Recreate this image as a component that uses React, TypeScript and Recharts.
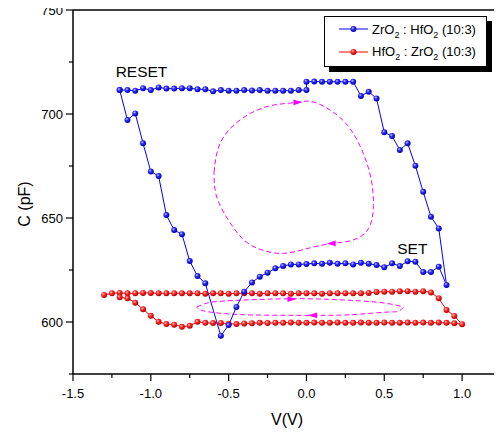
import {
  ComposedChart,
  Line,
  XAxis,
  YAxis,
  Legend,
  ReferenceDot,
} from "recharts";

const FONT = '"Liberation Sans", Arial, Helvetica, sans-serif';

const seriesNames = ["ZrO2 : HfO2 (10:3)", "HfO2 : ZrO2 (10:3)"];
const seriesColors = ["#0000ff", "#ff0000"];
const ballFills = ["url(#ballBlue)", "url(#ballRed)"];

// ZrO2 : HfO2 sweep, points in the order they were measured
const zrV = [
  // top branch
  -1.2, -1.15, -1.1, -1.05, -1, -0.95, -0.9, -0.85, -0.8, -0.75,
  -0.7, -0.65, -0.6, -0.55, -0.5, -0.45, -0.4, -0.35, -0.3, -0.25,
  -0.2, -0.15, -0.1, -0.05, 0,
  0, 0.05, 0.1, 0.15, 0.2, 0.25, 0.3,
  // right side going down
  0.35, 0.4, 0.45, 0.5, 0.55, 0.6, 0.65, 0.7, 0.75, 0.8, 0.85, 0.9,
  // bottom branch back to the left
  0.85, 0.8, 0.75, 0.7, 0.65, 0.6, 0.55, 0.5, 0.45, 0.4,
  0.35, 0.3, 0.25, 0.2, 0.15, 0.1, 0.05, 0, -0.05, -0.1,
  -0.15, -0.2, -0.25, -0.3, -0.35, -0.4, -0.45, -0.5, -0.55,
  // left side going up
  -0.65, -0.7, -0.75, -0.8, -0.85, -0.9, -0.95, -1, -1.05, -1.1, -1.15, -1.2,
];
const zrC = [
  711.5, 711.5, 711.2, 712.4, 711.5, 712.8, 712.2, 712.2, 712.4, 712.4,
  711.9, 711.9, 710.9, 711.5, 711.2, 711.2, 711.5, 711.3, 711.5, 711.2,
  711.2, 711.2, 711.2, 711.5, 711.5,
  715.5, 715.6, 715.5, 715.5, 715.5, 715.5, 715.5,
  708.7, 710.7, 707.5, 691.2, 689.4, 682.7, 685.9, 675.1, 662.6, 650.6, 645.0, 617.8,
  626.6, 624.0, 624.0, 629.0, 629.2, 626.9, 628.2, 626.3, 627.4, 628.0,
  628.5, 627.7, 628.2, 628.0, 628.5, 628.0, 628.2, 627.9, 627.7, 627.7,
  626.9, 625.8, 623.7, 621.8, 619.0, 614.6, 607.2, 598.5, 593.4,
  618.6, 622.1, 629.3, 642.2, 644.2, 651.4, 670.2, 672.3, 685.9, 700.3, 697.1, 711.5,
];

// HfO2 : ZrO2 sweep
const hfV = [
  -1.3, -1.25, -1.2, -1.15, -1.1, -1.05, -1, -0.95, -0.9, -0.85,
  -0.8, -0.75, -0.7, -0.65, -0.6, -0.55, -0.5, -0.45, -0.4, -0.35,
  -0.3, -0.25, -0.2, -0.15, -0.1, -0.05, 0, 0.05, 0.1, 0.15,
  0.2, 0.25, 0.3, 0.35, 0.4, 0.45, 0.5, 0.55, 0.6, 0.65,
  0.7, 0.75, 0.8,
  0.85, 0.9, 0.95, 1,
  0.95, 0.9, 0.85, 0.8, 0.75, 0.7, 0.65, 0.6, 0.55, 0.5,
  0.45, 0.4, 0.35, 0.3, 0.25, 0.2, 0.15, 0.1, 0.05, 0,
  -0.05, -0.1, -0.15, -0.2, -0.25, -0.3, -0.35, -0.4, -0.45, -0.5,
  -0.55, -0.6, -0.65, -0.7, -0.75, -0.8, -0.85, -0.9, -0.95, -1,
  -1.05, -1.1, -1.15, -1.2,
];
const hfC = [
  613.0, 613.8, 614.0, 613.8, 613.8, 614.0, 614.0, 613.8, 613.8, 613.8,
  613.8, 613.8, 613.8, 613.6, 613.8, 613.8, 613.6, 613.8, 613.8, 613.8,
  613.6, 613.8, 613.8, 613.8, 613.6, 613.8, 613.8, 613.8, 613.6, 613.8,
  613.8, 613.8, 613.8, 613.8, 614.0, 614.4, 614.6, 614.6, 614.8, 614.8,
  614.6, 614.8, 614.2,
  611.4, 605.8, 602.9, 598.9,
  599.4, 599.6, 599.7, 599.6, 599.7, 599.6, 599.7, 599.6, 599.6, 599.7,
  599.6, 599.6, 599.7, 599.6, 599.6, 599.7, 599.6, 599.6, 599.7, 599.6,
  599.6, 599.7, 599.6, 599.6, 599.5, 599.6, 599.4, 599.3, 599.0, 599.2,
  599.5, 599.5, 599.6, 600.1, 598.2, 597.7, 598.7, 599.0, 600.1, 603.0,
  606.1, 609.3, 611.4, 611.9,
];

// magenta guide loops (hand drawn on the original)
const bigLoopV = [
  -0.594, -0.567, -0.49, -0.36, -0.21, -0.06, 0.04, 0.17, 0.28, 0.36, 0.415,
  0.43, 0.4, 0.3, 0.17, 0.02, -0.15, -0.3, -0.41, -0.51, -0.58, -0.594,
];
const bigLoopC = [
  672, 683.5, 693, 700.3, 704.3, 705.6, 705.9, 701, 693, 682, 669,
  656, 645, 639.4, 637.8, 635.6, 633, 635, 640, 650, 661, 672,
];
const smallLoopV = [
  -0.705, -0.652, -0.567, -0.353, -0.032, 0.288, 0.502, 0.609, 0.619,
  0.587, 0.502, 0.288, 0.032, -0.353, -0.567, -0.673, -0.705,
];
const smallLoopC = [
  607.2, 608.8, 609.9, 610.7, 611.2, 610.4, 609.1, 607.5, 606.7,
  605.1, 604.7, 603.5, 603.2, 603.4, 604.3, 605.6, 607.2,
];

const arrowV = [-0.026, 0.13, -0.064, 0.01];
const arrowC = [705.6, 637.8, 611.0, 603.2];
const arrowDir = [1, -1, 1, -1];

const noteText = ["RESET", "SET"];
const noteV = [-1.06, 0.68];
const noteC = [717.8, 632.7];

const xTicks = [-1.5, -1.25, -1, -0.75, -0.5, -0.25, 0, 0.25, 0.5, 0.75, 1, 1.25];
const xMajor = [-1.5, -1, -0.5, 0, 0.5, 1];
const yTicks = [575, 600, 625, 650, 675, 700, 725, 750];
const yMajor = [600, 650, 700, 750];

const toRows = (v: number[], c: number[]) => v.map((x, i) => ({ v: x, c: c[i] }));

const BottomTick = (p: any) => {
  const v = p.payload.value;
  const major = xMajor.includes(v);
  return (
    <g>
      <line x1={p.x} x2={p.x} y1={p.y} y2={p.y + (major ? 7 : 4)} stroke="#000" strokeWidth={1.2} />
      {major && (
        <text x={p.x} y={p.y + 24} textAnchor="middle" fontSize={13} fontFamily={FONT} fill="#000">
          {v.toFixed(1)}
        </text>
      )}
    </g>
  );
};

const TopTick = (p: any) => {
  const major = xMajor.includes(p.payload.value);
  return <line x1={p.x} x2={p.x} y1={p.y} y2={p.y + (major ? 5 : 3)} stroke="#000" strokeWidth={1.2} />;
};

const LeftTick = (p: any) => {
  const v = p.payload.value;
  const major = yMajor.includes(v);
  return (
    <g>
      <line x1={p.x - (major ? 7 : 4)} x2={p.x} y1={p.y} y2={p.y} stroke="#000" strokeWidth={1.2} />
      {major && (
        <text x={p.x - 10} y={p.y + 4.7} textAnchor="end" fontSize={13} fontFamily={FONT} fill="#000">
          {v}
        </text>
      )}
    </g>
  );
};

const RightTick = (p: any) => {
  const major = yMajor.includes(p.payload.value);
  return <line x1={p.x - (major ? 5 : 3)} x2={p.x} y1={p.y} y2={p.y} stroke="#000" strokeWidth={1.2} />;
};

const YLabel = (p: any) => {
  const vb = p.viewBox || { x: 0, y: 10, width: 73, height: 364 };
  const cx = vb.x + 24;
  const cy = vb.y + vb.height / 2 + 12;
  return (
    <text x={cx} y={cy} dy={6} transform={`rotate(-90 ${cx} ${cy})`} textAnchor="middle" fontSize={16} fontFamily={FONT} fill="#000">
      C (pF)
    </text>
  );
};

const chem = (s: string) =>
  s.split("2").map((part, i) => (
    <span key={i}>
      {i > 0 && <span style={{ fontSize: 9, position: "relative", top: 4 }}>2</span>}
      {part}
    </span>
  ));

const renderLegend = () => (
  <div
    style={{
      position: "relative",
      width: 163,
      height: 51,
      boxSizing: "border-box",
      border: "1px solid #000",
      background: "#fff",
      boxShadow: "5px 5px 0 #000",
      fontFamily: FONT,
      fontSize: 13,
      color: "#000",
    }}
  >
    {seriesNames.map((name, i) => (
      <div
        key={name}
        style={{
          position: "absolute",
          left: 13,
          top: i === 0 ? 1 : 23.7,
          height: 22,
          display: "flex",
          alignItems: "center",
          whiteSpace: "pre",
        }}
      >
        <svg width={31} height={10}>
          <line x1={1} x2={30} y1={5} y2={5} stroke={seriesColors[i]} strokeWidth={1} />
          <circle cx={15.5} cy={5} r={3} fill={ballFills[i]} />
        </svg>
        <span style={{ marginLeft: 3 }}>{chem(name)}</span>
      </div>
    ))}
  </div>
);

export default function App() {
  const axisLine = { stroke: "#000", strokeWidth: 1.5 };
  return (
    <div style={{ margin: "-8px 0 0 -8px", width: 502, height: 435 }}>
      <ComposedChart width={502} height={435} margin={{ top: 9, right: 0, bottom: 0, left: 0 }}>
        <defs>
          <radialGradient id="ballBlue" cx="38%" cy="35%" r="65%">
            <stop offset="0%" stopColor="#c8c8ff" />
            <stop offset="40%" stopColor="#2a2aff" />
            <stop offset="100%" stopColor="#0000a8" />
          </radialGradient>
          <radialGradient id="ballRed" cx="38%" cy="35%" r="65%">
            <stop offset="0%" stopColor="#ffc8c8" />
            <stop offset="40%" stopColor="#ff2a2a" />
            <stop offset="100%" stopColor="#b00000" />
          </radialGradient>
        </defs>
        <XAxis
          dataKey="v"
          type="number"
          domain={[-1.5, 1.25]}
          ticks={xTicks}
          interval={0}
          tick={BottomTick}
          tickLine={false}
          tickSize={0}
          tickMargin={0}
          height={61}
          axisLine={axisLine}
          label={{ value: "V(V)", position: "insideBottom", offset: 10, fill: "#000", fontSize: 16, fontFamily: FONT }}
        />
        <XAxis
          xAxisId="top"
          orientation="top"
          type="number"
          domain={[-1.5, 1.25]}
          ticks={xTicks}
          interval={0}
          tick={TopTick}
          tickLine={false}
          tickSize={0}
          tickMargin={0}
          height={1}
          axisLine={axisLine}
        />
        <YAxis
          dataKey="c"
          type="number"
          domain={[575, 750]}
          ticks={yTicks}
          interval={0}
          tick={LeftTick}
          tickLine={false}
          tickSize={0}
          tickMargin={0}
          width={73}
          axisLine={axisLine}
          label={YLabel}
        />
        <YAxis
          yAxisId="right"
          orientation="right"
          type="number"
          domain={[575, 750]}
          ticks={yTicks}
          interval={0}
          tick={RightTick}
          tickLine={false}
          tickSize={0}
          tickMargin={0}
          width={1}
          axisLine={axisLine}
        />
        <Line
          data={toRows(bigLoopV, bigLoopC)}
          dataKey="c"
          type="natural"
          stroke="#ff00ff"
          strokeWidth={1}
          strokeDasharray="5 3"
          dot={false}
          activeDot={false}
          legendType="none"
          isAnimationActive={false}
        />
        <Line
          data={toRows(smallLoopV, smallLoopC)}
          dataKey="c"
          type="natural"
          stroke="#ff00ff"
          strokeWidth={1}
          strokeDasharray="5 3"
          dot={false}
          activeDot={false}
          legendType="none"
          isAnimationActive={false}
        />
        <Line
          data={toRows(hfV, hfC)}
          dataKey="c"
          name={seriesNames[1]}
          type="linear"
          stroke={seriesColors[1]}
          strokeWidth={1}
          dot={{ r: 3, fill: ballFills[1], stroke: "none" }}
          activeDot={false}
          isAnimationActive={false}
        />
        <Line
          data={toRows(zrV, zrC)}
          dataKey="c"
          name={seriesNames[0]}
          type="linear"
          stroke={seriesColors[0]}
          strokeWidth={1}
          dot={{ r: 3, fill: ballFills[0], stroke: "none" }}
          activeDot={false}
          isAnimationActive={false}
        />
        {arrowV.map((v, i) => (
          <ReferenceDot
            key={`arrow-${i}`}
            x={v}
            y={arrowC[i]}
            r={0}
            shape={(p: any) => {
              const s = arrowDir[i];
              return (
                <polygon
                  points={`${p.cx},${p.cy} ${p.cx - s * 9},${p.cy - 2.8} ${p.cx - s * 9},${p.cy + 2.8}`}
                  fill="#ff00ff"
                />
              );
            }}
          />
        ))}
        {noteText.map((t, i) => (
          <ReferenceDot
            key={`note-${i}`}
            x={noteV[i]}
            y={noteC[i]}
            r={0}
            shape={(p: any) => (
              <text x={p.cx} y={p.cy} textAnchor="middle" fontSize={15.5} fontFamily={FONT} fill="#000">
                {t}
              </text>
            )}
          />
        ))}
        <Legend
          layout="horizontal"
          verticalAlign="middle"
          align="center"
          content={renderLegend}
          wrapperStyle={{ left: 324, top: 16, width: 168, height: 56 }}
        />
      </ComposedChart>
    </div>
  );
}
